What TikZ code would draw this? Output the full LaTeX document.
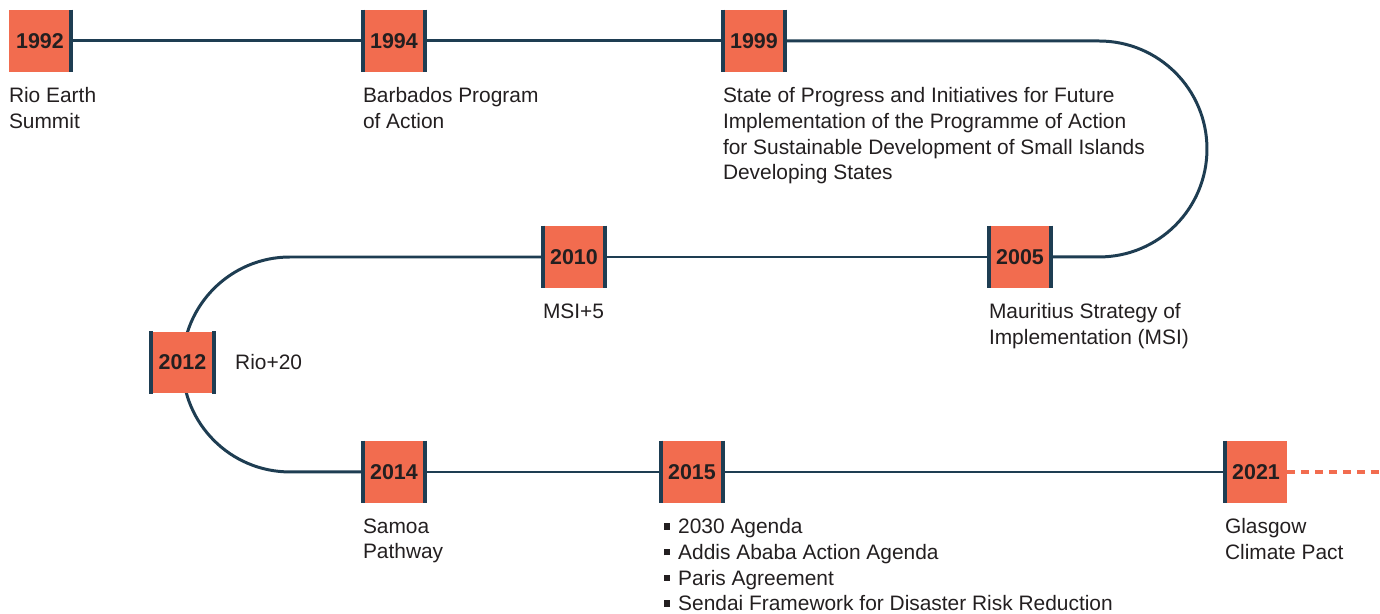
\documentclass[tikz,border=0pt]{standalone}
\usepackage{fontspec}
\setmainfont{Liberation Sans}
\usepackage{xcolor}
\usepackage{tikz}
\usetikzlibrary{positioning}
\usetikzlibrary{backgrounds}
\definecolor{boxorange}{HTML}{F26C4F}
\definecolor{linenavy}{HTML}{1E3D52}
\definecolor{textgrey}{HTML}{231F20}
\tikzstyle{yearbox} = [rectangle, fill=boxorange, minimum size=1.24cm,
    inner sep=0pt, text=textgrey, font=\fontsize{12.2}{14}\selectfont\bfseries]
\tikzstyle{desc} = [align=left, inner sep=0pt, text=textgrey,
    font=\fontsize{11.9}{14.6}\selectfont]
\tikzstyle{line} = [draw=linenavy, line width=1.7pt]
\tikzstyle{bar} = [draw=linenavy, line width=2.2pt]
\tikzstyle{future} = [draw=boxorange, line width=1.8pt, dash pattern=on 4.5pt off 3.4pt]
\newcommand{\sqbullet}{\hspace{1.7pt}\rule[2.4pt]{3.6pt}{3.6pt}\hspace{4.5pt}}

\begin{document}
\begin{tikzpicture}[x=0.02cm, y=-0.02cm, node distance=0.3cm]
    \useasboundingbox (0,0) rectangle (1380,614);
    % Place nodes
    \node [yearbox] (y1992) at (40,41) {1992};
    \node [yearbox] (y1994) at (394,41) {1994};
    \node [yearbox] (y1999) at (754,41) {1999};
    \node [yearbox] (y2005) at (1020,257) {2005};
    \node [yearbox] (y2010) at (574,257) {2010};
    \node [yearbox] (y2012) at (182.5,362.5) {2012};
    \node [yearbox] (y2014) at (394,472) {2014};
    \node [yearbox] (y2015) at (692,472) {2015};
    \node [yearbox] (y2021) at (1256,472) {2021};
    \coordinate (rtop) at (1099,41);
    \coordinate (ltop) at (290,257);
    \coordinate (fend) at (1380,472);
    % Place descriptions
    \node [desc, below right=0.3cm and 0cm of y1992.south west] (d1992) {Rio Earth\\Summit};
    \node [desc, below right=0.3cm and 0cm of y1994.south west] (d1994) {Barbados Program\\of Action};
    \node [desc, below right=0.3cm and 0cm of y1999.south west] (d1999) {State of Progress and Initiatives for Future\\Implementation of the Programme of Action\\for Sustainable Development of Small Islands\\Developing States};
    \node [desc, below right=0.3cm and 0cm of y2005.south west] (d2005) {Mauritius Strategy of\\Implementation (MSI)};
    \node [desc, below right=0.3cm and 0cm of y2010.south west] (d2010) {MSI+5};
    \node [desc, right=0.42cm of y2012] (d2012) {Rio+20};
    \node [desc, below right=0.3cm and 0cm of y2014.south west] (d2014) {Samoa\\Pathway};
    \node [desc, below right=0.3cm and 0cm of y2015.south west] (d2015) {\sqbullet 2030 Agenda\\\sqbullet Addis Ababa Action Agenda\\\sqbullet Paris Agreement\\\sqbullet Sendai Framework for Disaster Risk Reduction};
    \node [desc, below right=0.3cm and 0cm of y2021.south west] (d2021) {Glasgow\\Climate Pact};
    % Draw edges
    \begin{scope}[on background layer]
    \path [line] (y1992) -- (y1994);
    \path [line] (y1994) -- (y1999);
    \path [line] (y1999) -- (rtop) arc [start angle=90, end angle=-90, radius=2.16cm] -- (y2005);
    \path [line] (y2005) -- (y2010);
    \path [line] (y2010) -- (ltop) arc [start angle=90, end angle=270, radius=2.15cm] -- (y2014);
    \path [line] (y2014) -- (y2015);
    \path [line] (y2015) -- (y2021);
    \end{scope}
    \path [future] (y2021.east) -- (fend);
    % Side bars
    \foreach \yr in {1994,1999,2005,2010,2012,2014,2015}
        \path [bar] (y\yr.north west) -- (y\yr.south west)
                    (y\yr.north east) -- (y\yr.south east);
    \path [bar] (y1992.north east) -- (y1992.south east);
    \path [bar] (y2021.north west) -- (y2021.south west);
\end{tikzpicture}
\end{document}
